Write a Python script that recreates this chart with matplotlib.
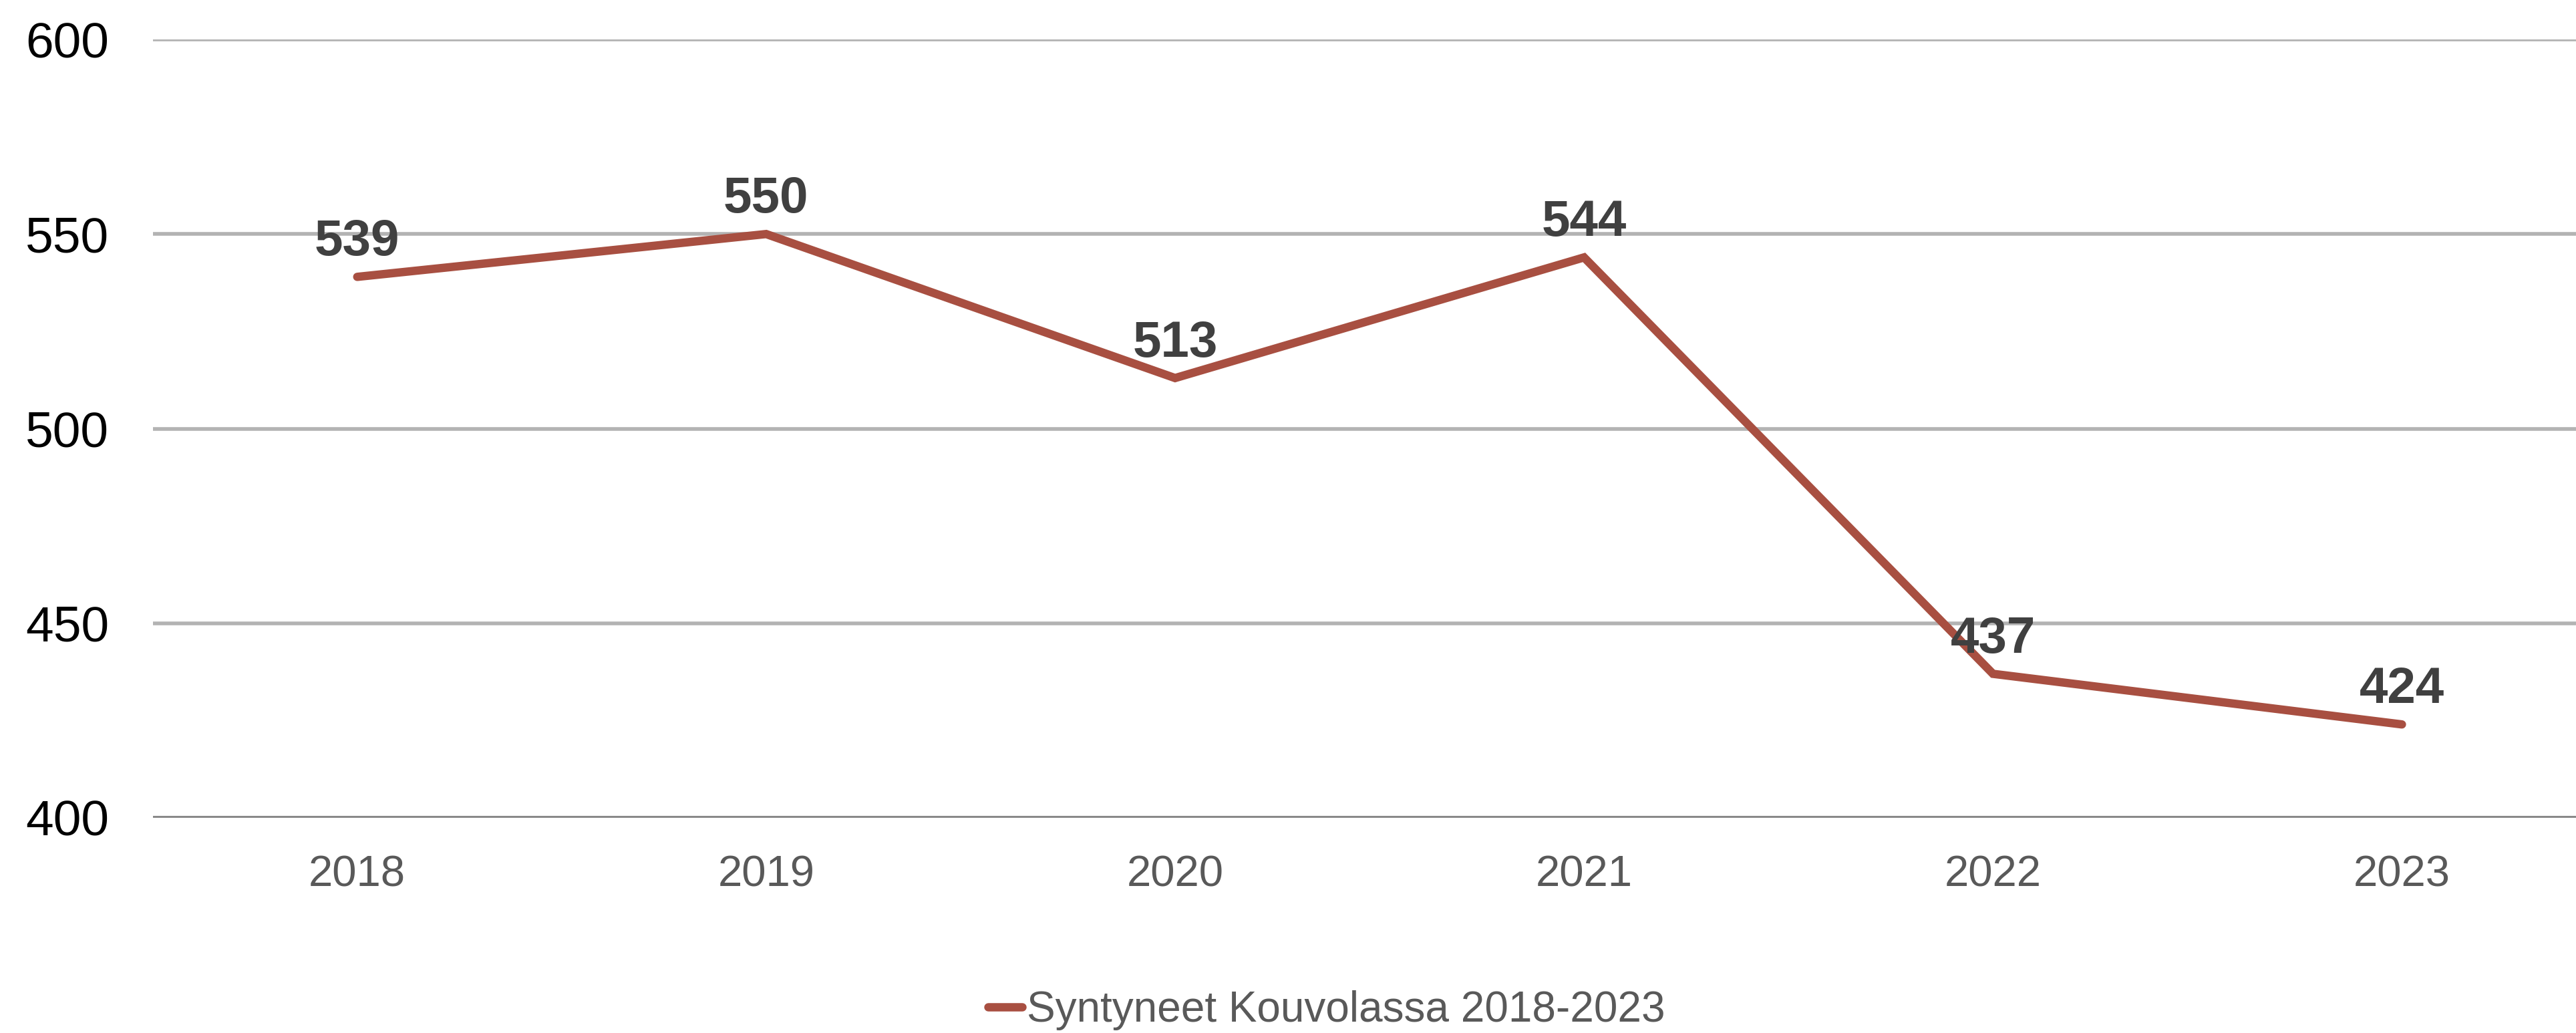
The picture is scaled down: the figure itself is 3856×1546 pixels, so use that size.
import matplotlib
matplotlib.use('Agg')
import matplotlib.pyplot as plt
from matplotlib.lines import Line2D

# data
years = ['2018', '2019', '2020', '2021', '2022', '2023']
births = [539, 550, 513, 544, 437, 424]
series_name = 'Syntyneet Kouvolassa 2018-2023'
y_ticks = [400, 450, 500, 550, 600]

line_color = '#A84F41'
plt.rcParams['font.family'] = ['Liberation Sans', 'DejaVu Sans']

fig = plt.figure(figsize=(38.56, 15.46), dpi=100)
ax = fig.add_axes([0.0593, 0.2083, 1.0118 - 0.0593, 0.9618 - 0.2083])

x = list(range(len(years)))
ax.plot(x, births, color=line_color, lw=9.0, solid_capstyle='round',
        solid_joinstyle='miter', zorder=3)

# data labels above each point
for xi, v in zip(x, births):
    ax.annotate(str(v), xy=(xi, v), xytext=(0, 37), textcoords='offset points',
                ha='center', va='center', fontsize=55, fontweight='bold',
                color='#404040', zorder=4)

ax.set_xlim(-0.5, len(years) - 0.5)
ax.set_ylim(400, 600)
ax.set_yticks(y_ticks)
ax.set_yticklabels([str(t) for t in y_ticks], fontsize=54, color='black')
ax.set_xticks(x)
ax.set_xticklabels(years, fontsize=47, color='#595959')

for t in y_ticks[1:]:
    ax.axhline(t, color='#B3B3B3', lw=4.0, zorder=1)
ax.axhline(400, color='#898989', lw=4.3, zorder=2)

for s in ax.spines.values():
    s.set_visible(False)
ax.tick_params(axis='both', length=0)
ax.tick_params(axis='y', pad=47)
ax.tick_params(axis='x', pad=40)

handle = Line2D([0], [0], color=line_color, lw=9.0, solid_capstyle='round')
fig.legend([handle], [series_name], loc='center', bbox_to_anchor=(0.515, 0.022),
           frameon=False, fontsize=46, handlelength=0.8, handletextpad=0.1,
           labelcolor='#595959')

fig.savefig('out.png', dpi=100)
